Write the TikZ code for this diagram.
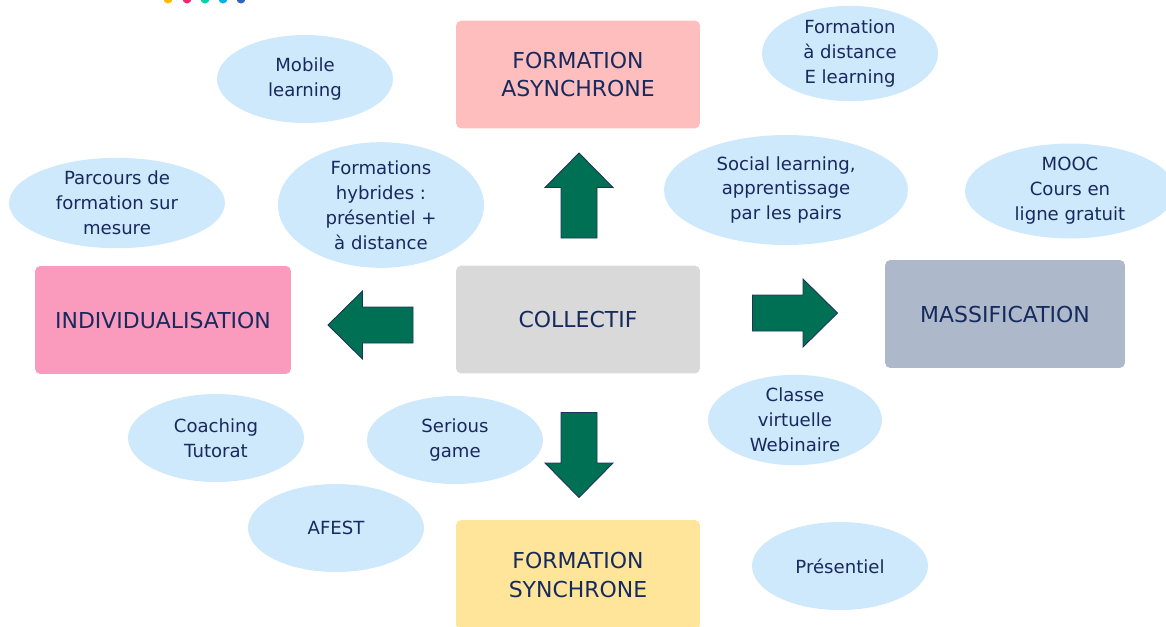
\documentclass[tikz,border=0pt]{standalone}
\usepackage{fontspec}
\setmainfont{DejaVu Sans}
\usetikzlibrary{shapes.geometric}
\definecolor{texte}{RGB}{22,42,94}
\definecolor{bleuclair}{RGB}{206,232,252}
\definecolor{vertfleche}{RGB}{0,112,84}
\definecolor{contour}{RGB}{30,50,90}
\definecolor{saumon}{RGB}{255,190,190}
\definecolor{rose}{RGB}{250,155,190}
\definecolor{grisclair}{RGB}{217,217,217}
\definecolor{grisbleu}{RGB}{173,185,202}
\definecolor{jaune}{RGB}{255,229,153}
\definecolor{pointA}{RGB}{255,184,0}
\definecolor{pointB}{RGB}{240,40,115}
\definecolor{pointC}{RGB}{0,210,170}
\definecolor{pointD}{RGB}{0,182,222}
\definecolor{pointE}{RGB}{50,100,190}
\begin{document}
\begin{tikzpicture}[x=0.02cm, y=-0.02cm,
	bulle/.style={ellipse, fill=bleuclair, inner sep=0pt, align=center,
		text=texte, font=\fontsize{10.3}{14.2}\selectfont,
		minimum width=3.52cm, minimum height=1.76cm},
	pave/.style={rectangle, rounded corners=3pt, inner sep=0pt, align=center,
		text=texte, font=\fontsize{12.5}{16.5}\selectfont,
		minimum width=4.88cm, minimum height=2.16cm},
	fleche/.style={fill=vertfleche, draw=contour, line width=0.5pt, line join=miter}]
	\useasboundingbox (0,0) rectangle (1166,626);
	% petits points en haut
	\foreach \x/\c in {168/pointA, 187/pointB, 205/pointC, 223/pointD, 241/pointE}
		\fill[\c] (\x,-1) circle (4.5);
	% blocs principaux
	\node[pave, fill=saumon] (async) at (578,74.5) {FORMATION\\ASYNCHRONE};
	\node[pave, fill=grisclair] (collectif) at (578,319.5) {COLLECTIF};
	\node[pave, fill=rose, minimum width=5.12cm] (indiv) at (163,320) {INDIVIDUALISATION};
	\node[pave, fill=grisbleu, minimum width=4.8cm] (massif) at (1005,314) {MASSIFICATION};
	\node[pave, fill=jaune, minimum height=2.2cm] (sync) at (578,575) {FORMATION\\SYNCHRONE};
	% fleches
	\foreach \x/\y/\a in {579/195.5/90, 370.5/325/180, 795/313/0, 579/455/270}
		\filldraw[fleche, shift={(\x,\y)}, rotate=\a]
			(-42.5,-18) -- (8,-18) -- (8,-34) -- (42.5,0) -- (8,34) -- (8,18) -- (-42.5,18) -- cycle;
	% bulles
	\node[bulle] (mobile) at (305,79) {Mobile\\learning};
	\node[bulle] (distance) at (850,53.5) {Formation\\à distance\\E learning};
	\node[bulle, minimum width=4.32cm, minimum height=1.8cm] (parcours) at (117,203) {Parcours de\\formation sur\\mesure};
	\node[bulle, minimum width=4.12cm, minimum height=2.2cm] (hybride) at (381,205) {Formations\\hybrides :\\présentiel +\\à distance};
	\node[bulle, minimum width=4.88cm, minimum height=2.2cm] (social) at (786,190) {Social learning,\\apprentissage\\par les pairs};
	\node[bulle, minimum width=4.2cm, minimum height=1.88cm] (mooc) at (1070,191) {MOOC\\Cours en\\ligne gratuit};
	\node[bulle, minimum width=3.48cm, minimum height=1.8cm] (classe) at (795,420) {Classe\\virtuelle\\Webinaire};
	\node[bulle] (coaching) at (216,438) {Coaching\\Tutorat};
	\node[bulle] (serious) at (455,440) {Serious\\game};
	\node[bulle] (afest) at (336,528) {AFEST};
	\node[bulle] (presentiel) at (840,566) {Présentiel};
\end{tikzpicture}
\end{document}
